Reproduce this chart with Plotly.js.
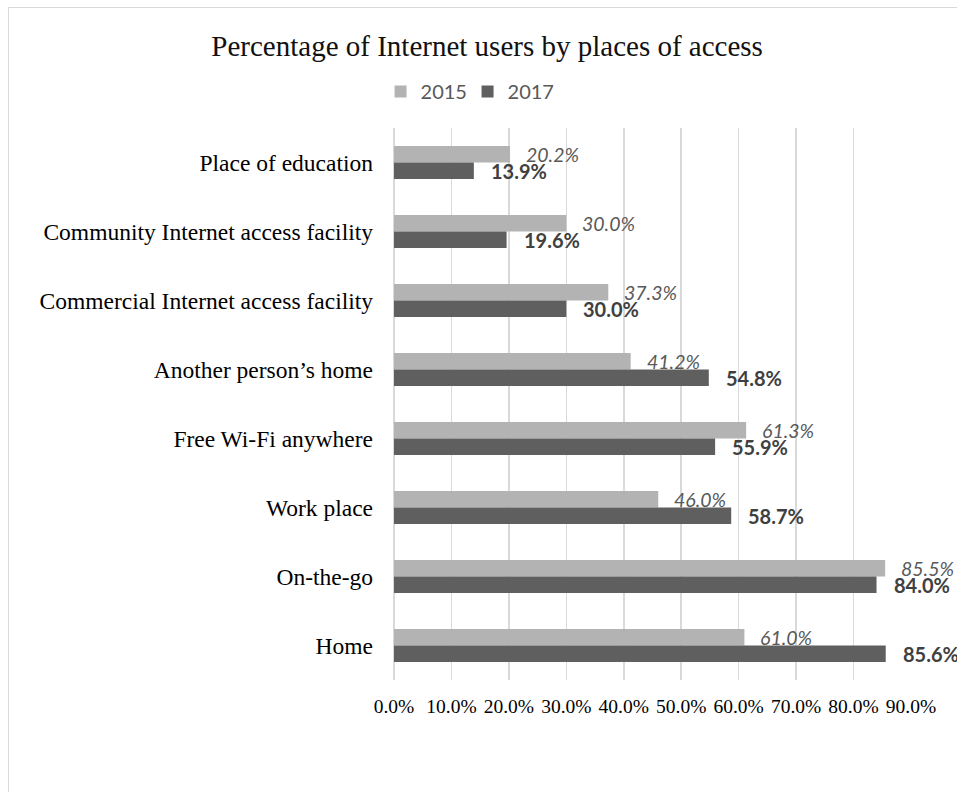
<!DOCTYPE html>
<html>
<head>
<meta charset="utf-8">
<script src="https://cdn.plot.ly/plotly-3.0.1.min.js"></script>
<style>
  html, body { margin: 0; padding: 0; background: #fff; }
  #wrap { position: relative; width: 957px; height: 792px; overflow: hidden; }
  #chart { position: absolute; left: 0; top: 0; width: 957px; height: 792px; }
  #frame { position: absolute; left: 8px; top: 7px; width: 1000px; height: 900px;
           border-left: 1.5px solid #d9d9d9; border-top: 1.5px solid #d9d9d9; pointer-events: none; }
</style>
</head>
<body>
<div id="wrap">
  <div id="chart"></div>
  <div id="frame"></div>
</div>
<script>
const categories = [
  "Place of education",
  "Community Internet access facility",
  "Commercial Internet access facility",
  "Another person\u2019s home",
  "Free Wi-Fi anywhere",
  "Work place",
  "On-the-go",
  "Home"
];
const values2015 = [20.2, 30.0, 37.3, 41.2, 61.3, 46.0, 85.5, 61.0];
const values2017 = [13.9, 19.6, 30.0, 54.8, 55.9, 58.7, 84.0, 85.6];
const seriesNames = ["2015", "2017"];
const tickValues = [0, 10, 20, 30, 40, 50, 60, 70, 80, 90];
const tickLabels = ["0.0%", "10.0%", "20.0%", "30.0%", "40.0%", "50.0%", "60.0%", "70.0%", "80.0%", "90.0%"];

const serif = "Liberation Serif, Times New Roman, serif";
const sans = "Lato, Carlito, Open Sans, sans-serif";

const traces = [
  {
    type: "bar", orientation: "h", name: seriesNames[0],
    y: categories, x: values2015,
    marker: { color: "#b3b3b3" },
    hoverinfo: "skip"
  },
  {
    type: "bar", orientation: "h", name: seriesNames[1],
    y: categories, x: values2017,
    marker: { color: "#5f5f5f" },
    hoverinfo: "skip"
  }
];

const annotations = [];
categories.forEach((c, i) => {
  annotations.push({
    x: values2015[i], y: c, xref: "x", yref: "y",
    text: values2015[i].toFixed(1) + "%",
    showarrow: false, xanchor: "left", yanchor: "middle",
    xshift: 14, yshift: 8.3,
    font: { family: sans, size: 19.5, color: "#595959", style: "italic" }
  });
  annotations.push({
    x: values2017[i], y: c, xref: "x", yref: "y",
    text: "<b>" + values2017[i].toFixed(1) + "%</b>",
    showarrow: false, xanchor: "left", yanchor: "middle",
    xshift: 15, yshift: -8.3,
    font: { family: sans, size: 20, color: "#404040" }
  });
});

const layout = {
  width: 957, height: 792,
  margin: { l: 394, r: 45.5, t: 127.5, b: 111.5 },
  paper_bgcolor: "#ffffff", plot_bgcolor: "#ffffff",
  barmode: "group", bargap: 0.52, bargroupgap: 0,
  title: {
    text: "Percentage of Internet users by places of access",
    font: { family: serif, size: 29, color: "#111111" },
    x: 0.509, xref: "container", xanchor: "center",
    y: 0.942, yref: "container", yanchor: "middle"
  },
  showlegend: true,
  legend: {
    orientation: "h",
    x: -0.026, xanchor: "left",
    y: 1.066, yanchor: "middle",
    font: { family: sans, size: 20, color: "#595959" },
    entrywidth: 42, entrywidthmode: "pixels",
    traceorder: "normal",
    bgcolor: "rgba(0,0,0,0)"
  },
  xaxis: {
    range: [0, 90],
    tickvals: tickValues, ticktext: tickLabels,
    showgrid: true, gridcolor: "#d9d9d9", gridwidth: 1.5,
    zeroline: true, zerolinecolor: "#d9d9d9", zerolinewidth: 1.5,
    showline: false, ticks: "",
    ticklabelstandoff: 12,
    tickfont: { family: serif, size: 19.5, color: "#000000" },
    fixedrange: true
  },
  yaxis: {
    type: "category",
    autorange: "reversed",
    showgrid: false, zeroline: false, showline: false, ticks: "",
    ticklabelstandoff: 20,
    tickfont: { family: serif, size: 23.5, color: "#000000" },
    fixedrange: true
  },
  annotations: annotations
};

Plotly.newPlot("chart", traces, layout, { displayModeBar: false, staticPlot: true });
</script>
</body>
</html>
